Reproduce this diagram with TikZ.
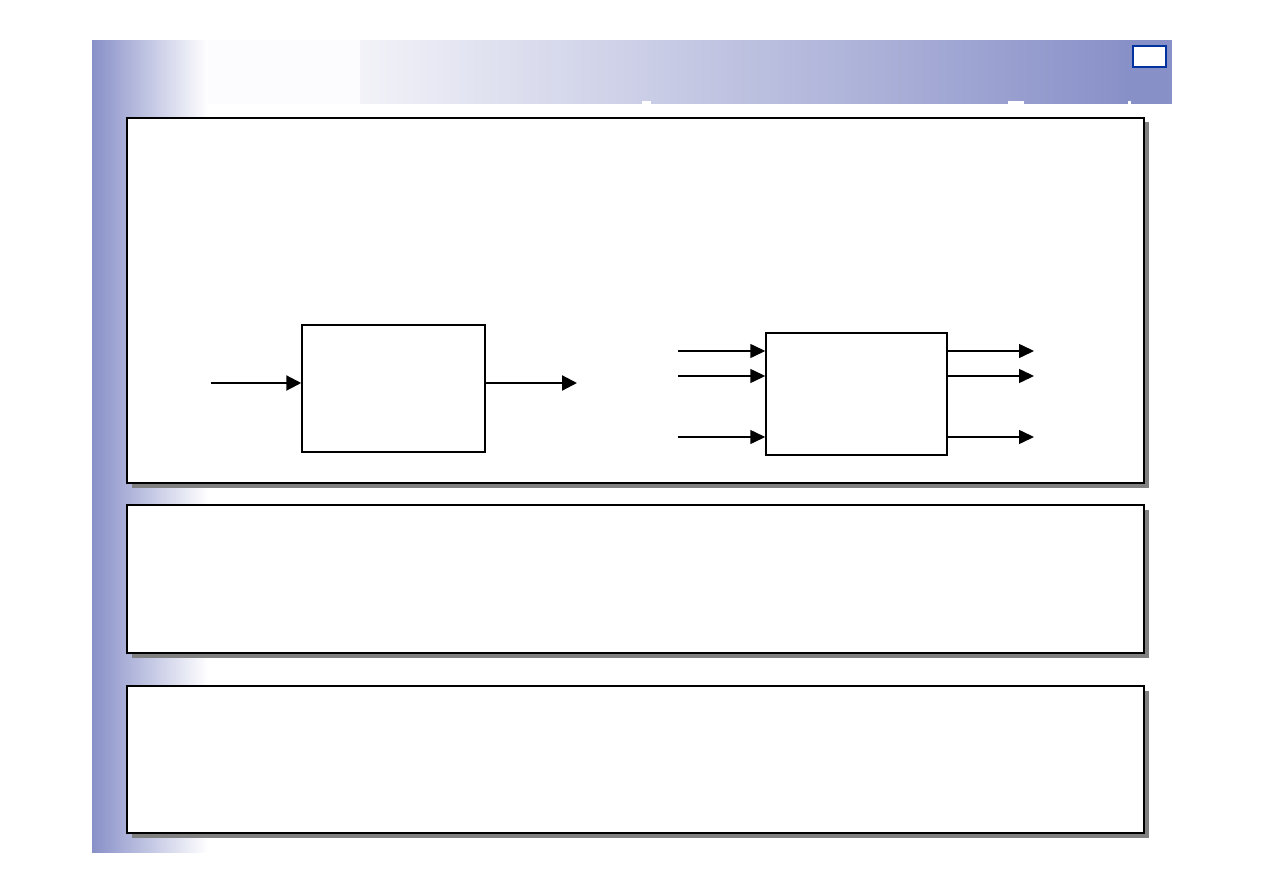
\documentclass[tikz,border=0pt]{standalone}
\usetikzlibrary{arrows.meta,shadows}
\definecolor{bandblue}{HTML}{8890C8}
\definecolor{bandpale}{HTML}{F2F2F8}
\definecolor{bandwhite}{HTML}{FCFCFE}
\definecolor{pageblue}{HTML}{0033A0}
\definecolor{shadowgray}{HTML}{808080}
\tikzset{
  panel/.style={draw=black, line width=1.6pt, fill=white, inner sep=0pt,
    drop shadow={shadow xshift=4.5pt, shadow yshift=-4.5pt, fill=shadowgray, opacity=1}},
  blockbox/.style={draw=black, line width=1.5pt, fill=white, inner sep=0pt},
  sigarrow/.style={line width=2.2pt, -{Triangle[length=15pt,width=15pt]}},
  thinarrow/.style={line width=1.5pt, -{Triangle[length=15pt,width=14pt]}},
  notch/.style={fill=white, draw=none},
}
\begin{document}
\begin{tikzpicture}[x=1pt,y=1pt]
\useasboundingbox (0,0) rectangle (1263,-893);
\fill[white] (0,0) rectangle (1263,-893);
% background bands
\shade[left color=bandblue, right color=white, draw=none] (92,-40.5) rectangle (208,-852);
\fill[bandwhite] (208,-40.5) rectangle (360,-104);
\shade[left color=bandpale, right color=bandblue, draw=none] (360,-40.5) rectangle (1130,-104);
\fill[bandblue] (1129.5,-40.5) rectangle (1172,-104);
\fill[notch] (642,-101) rectangle (651,-104.5);
\fill[notch] (1008,-101) rectangle (1024,-104.5);
\fill[notch] (1128,-101) rectangle (1131,-104.5);
% page number box
\node[draw=pageblue, line width=2.5pt, fill=white, minimum width=33pt, minimum height=21pt, inner sep=0pt] (pagebox) at (1149.5,-56.5) {};
% panels
\node[panel, minimum width=1017pt, minimum height=365pt] (panelA) at (635.5,-300.5) {};
\node[panel, minimum width=1017pt, minimum height=148pt] (panelB) at (635.5,-579) {};
\node[panel, minimum width=1017pt, minimum height=147pt] (panelC) at (635.5,-759.5) {};
% left system
\node[blockbox, minimum width=183pt, minimum height=127pt] (blockA) at (393.5,-388.5) {};
\coordinate (lin) at (211,-383);
\coordinate (lout) at (577,-383);
\draw[sigarrow] (lin) -- (lin -| blockA.west);
\draw[sigarrow] (blockA.east |- lin) -- (lout);
% right system
\node[blockbox, minimum width=181pt, minimum height=122pt] (blockB) at (856.5,-394) {};
\coordinate (rin1) at (678,-351);
\coordinate (rin2) at (678,-376);
\coordinate (rin3) at (678,-437);
\coordinate (rout1) at (1034,-351);
\coordinate (rout2) at (1034,-376);
\coordinate (rout3) at (1034,-437);
\draw[thinarrow] (rin1) -- (rin1 -| blockB.west);
\draw[thinarrow] (rin2) -- (rin2 -| blockB.west);
\draw[thinarrow] (rin3) -- (rin3 -| blockB.west);
\draw[thinarrow] (blockB.east |- rout1) -- (rout1);
\draw[thinarrow] (blockB.east |- rout2) -- (rout2);
\draw[thinarrow] (blockB.east |- rout3) -- (rout3);
\end{tikzpicture}
\end{document}
